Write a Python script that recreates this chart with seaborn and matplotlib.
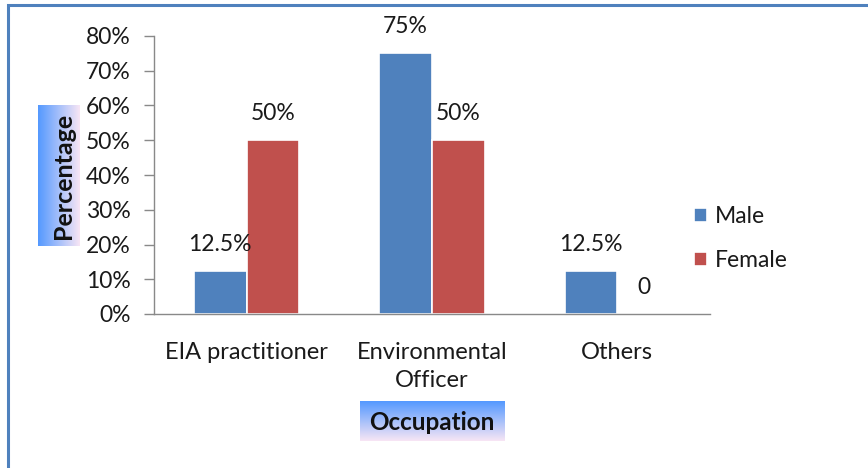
import numpy as np
import pandas as pd
import matplotlib
matplotlib.use("Agg")
import matplotlib.pyplot as plt
from matplotlib.patches import Rectangle
from matplotlib.ticker import PercentFormatter, MultipleLocator
import seaborn as sns

# Occupation by gender
categories = ["EIA practitioner", "Environmental\nOfficer", "Others"]
male = [0.125, 0.75, 0.125]
female = [0.50, 0.50, 0.0]
series_names = ["Male", "Female"]
series_colors = ["#4F81BD", "#C0504D"]

df = pd.DataFrame({
    "Occupation": categories * 2,
    "Gender": [series_names[0]] * len(categories) + [series_names[1]] * len(categories),
    "Value": male + female,
})

sns.set_theme(style="white")
plt.rcParams["font.family"] = ["Lato", "DejaVu Sans"]

W, H = 868, 468
fig = plt.figure(figsize=(W / 100, H / 100), dpi=100)
fig.patch.set_facecolor("white")

def fx(px):
    return px / W

def fy(py):
    return (H - py) / H

ax = fig.add_axes([fx(154), fy(314), fx(710) - fx(154), fy(36) - fy(314)])

sns.barplot(data=df, x="Occupation", y="Value", hue="Gender",
            palette=series_colors, width=0.57, ax=ax,
            edgecolor="white", linewidth=1.2, saturation=1, legend=True)

ax.set_ylim(0, 0.8)
ax.set_xlim(-0.5, 2.5)
ax.yaxis.set_major_locator(MultipleLocator(0.1))
ax.yaxis.set_major_formatter(PercentFormatter(1.0, decimals=0))
for side in ["top", "right"]:
    ax.spines[side].set_visible(False)
for side in ["left", "bottom"]:
    ax.spines[side].set_color("#898989")
    ax.spines[side].set_linewidth(1.0)
ax.tick_params(axis="y", which="major", left=True, length=7, width=1,
               color="#898989", labelsize=16.5, labelcolor="#1a1a1a", pad=10)
ax.tick_params(axis="x", bottom=False, labelsize=17, labelcolor="#1a1a1a", pad=14)
for lbl in ax.get_xticklabels():
    lbl.set_linespacing(1.45)
ax.set_xlabel("")
ax.set_ylabel("")

# value labels above each bar
for container, vals in zip(ax.containers, [male, female]):
    for bar, v in zip(container, vals):
        txt = "0" if v == 0 else f"{v * 100:g}%"
        ax.annotate(txt, (bar.get_x() + bar.get_width() / 2, bar.get_height()),
                    xytext=(0, 19), textcoords="offset points",
                    ha="center", va="center", fontsize=16.5, color="#1a1a1a",
                    annotation_clip=False)

# legend to the right of the plot
handles, labels = ax.get_legend_handles_labels()
ax.legend(handles, labels, loc="center left", bbox_to_anchor=(0.935, 0.27),
          frameon=False, fontsize=16.5, handlelength=0.55, handleheight=0.55,
          handletextpad=0.35, labelspacing=1.0, labelcolor="#1a1a1a")

# gradient title boxes
def gradient_box(x0, y0, x1, y1, horizontal):
    bax = fig.add_axes([fx(x0), fy(y1), fx(x1) - fx(x0), fy(y0) - fy(y1)])
    c0 = np.array([0.33, 0.60, 1.00])
    c1 = np.array([0.97, 0.90, 0.96])
    t = np.linspace(0, 1, 100)
    grad = c0[None, :] * (1 - t[:, None]) + c1[None, :] * t[:, None]
    if horizontal:
        img = grad[None, :, :]
    else:
        img = grad[:, None, :]
    bax.imshow(img, aspect="auto", extent=(0, 1, 0, 1), origin="upper")
    bax.set_axis_off()
    return bax

pax = gradient_box(38, 105, 80, 246, horizontal=True)
pax.text(0.6, 0.5, "Percentage", rotation=90, ha="center", va="center",
         fontsize=18, fontweight="bold", color="#111111", transform=pax.transAxes)

oax = gradient_box(360, 401, 504, 441, horizontal=False)
oax.text(0.5, 0.47, "Occupation", ha="center", va="center",
         fontsize=17.5, fontweight="bold", color="#111111", transform=oax.transAxes)

# outer chart border
fig.patches.append(Rectangle((fx(8), -0.2), 1.5, fy(5) + 0.2, transform=fig.transFigure,
                             fill=False, edgecolor="#4F81BD", linewidth=2.2))

fig.savefig("out.png", dpi=100)
